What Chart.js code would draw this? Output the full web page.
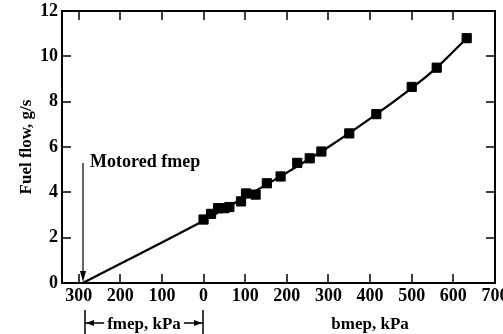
<!DOCTYPE html>
<html>
<head>
<meta charset="utf-8">
<script src="https://cdn.jsdelivr.net/npm/chart.js@4/dist/chart.umd.min.js"></script>
<style>
  html, body { margin: 0; padding: 0; background: #fff; }
  #wrap { width: 503px; height: 334px; }
</style>
</head>
<body>
<div id="wrap"><canvas id="fuelChart"></canvas></div>
<script>
const bmep = [0, 18, 35, 50, 62, 90, 102, 125, 152, 185, 225, 255, 283, 350, 415, 500, 560, 632];
const fuelFlow = [2.8, 3.05, 3.3, 3.3, 3.35, 3.6, 3.95, 3.9, 4.4, 4.7, 5.3, 5.5, 5.8, 6.6, 7.45, 8.65, 9.5, 10.8];
const fitX = [-290, 0, 100, 200, 300, 400, 500, 560, 632];
const fitY = [0, 2.75, 3.8, 4.87, 6.0, 7.25, 8.6, 9.5, 10.8];
const xTicks = [-300, -200, -100, 0, 100, 200, 300, 400, 500, 600, 700];
const yTicks = [0, 2, 4, 6, 8, 10, 12];
const motoredFmep = -290;

const serif = "'Liberation Serif', 'DejaVu Serif', serif";

// frame with inward ticks, plus the annotations
const frame = {
    id: "frame",
    afterDraw(chart) {
        const ctx = chart.ctx;
        const a = chart.chartArea;
        const xs = chart.scales.x;
        const ys = chart.scales.y;
        ctx.save();
        ctx.setLineDash([]);
        ctx.globalAlpha = 1;
        ctx.globalCompositeOperation = "source-over";
        ctx.fillStyle = "#000";
        ctx.strokeStyle = "#000";

        const lw = 2;
        ctx.fillRect(a.left - 1, a.top - 1, a.right - a.left + 2, lw);
        ctx.fillRect(a.left - 1, a.bottom - 1, a.right - a.left + 2, lw);
        ctx.fillRect(a.left - 1, a.top - 1, lw, a.bottom - a.top + 2);
        ctx.fillRect(a.right - 1, a.top - 1, lw, a.bottom - a.top + 2);

        xTicks.forEach(v => {
            const px = Math.round(xs.getPixelForValue(v));
            if (px <= a.left + 1 || px >= a.right - 1) return;
            ctx.fillRect(px - 0.75, a.bottom - 9, 1.5, 9);
            ctx.fillRect(px - 0.75, a.top, 1.5, 9);
        });
        yTicks.forEach(v => {
            const py = Math.round(ys.getPixelForValue(v));
            if (py <= a.top + 1 || py >= a.bottom - 1) return;
            ctx.fillRect(a.left, py - 0.75, 9, 1.5);
            ctx.fillRect(a.right - 9, py - 0.75, 9, 1.5);
        });

        // motored fmep arrow
        const mx = Math.round(xs.getPixelForValue(motoredFmep));
        ctx.font = "bold 18px " + serif;
        ctx.textBaseline = "alphabetic";
        ctx.textAlign = "left";
        ctx.fillText("Motored fmep", mx + 7, 167);
        const top = Math.round(ys.getPixelForValue(5.3));
        ctx.fillRect(mx - 0.6, top, 1.2, a.bottom - top - 8);
        ctx.beginPath();
        ctx.moveTo(mx, a.bottom - 1);
        ctx.lineTo(mx - 3, a.bottom - 12);
        ctx.lineTo(mx + 3, a.bottom - 12);
        ctx.closePath();
        ctx.fill();

        // axis titles below
        const ty = 329;
        ctx.font = "bold 17px " + serif;
        ctx.textAlign = "center";
        ctx.fillText("bmep, kPa", xs.getPixelForValue(400), ty);
        const l = Math.round(xs.getPixelForValue(motoredFmep)) + 2;
        const r = Math.round(xs.getPixelForValue(0)) - 1;
        const label = "fmep, kPa";
        const w = ctx.measureText(label).width;
        const cx = (l + r) / 2;
        ctx.fillText(label, cx, ty);
        ctx.fillRect(l - 0.75, 310, 1.5, 24);
        ctx.fillRect(r - 0.75, 310, 1.5, 24);
        ctx.fillRect(l, 322.25, cx - w / 2 - 3 - l, 1.5);
        ctx.fillRect(cx + w / 2 + 3, 322.25, r - (cx + w / 2 + 3), 1.5);
        ctx.beginPath();
        ctx.moveTo(l + 1, 323); ctx.lineTo(l + 9, 320); ctx.lineTo(l + 9, 326); ctx.closePath();
        ctx.moveTo(r - 1, 323); ctx.lineTo(r - 9, 320); ctx.lineTo(r - 9, 326); ctx.closePath();
        ctx.fill();
        ctx.restore();
    }
};

new Chart(document.getElementById("fuelChart"), {
    type: "scatter",
    data: {
        datasets: [
            {
                label: "Fuel flow",
                data: bmep.map((v, i) => ({ x: v, y: fuelFlow[i] })),
                pointStyle: "rect",
                pointRadius: 6.5,
                backgroundColor: "#000",
                borderColor: "#000",
                borderWidth: 1,
                showLine: false,
            },
            {
                label: "Fit",
                data: fitX.map((v, i) => ({ x: v, y: fitY[i] })),
                showLine: true,
                borderColor: "#000",
                borderWidth: 2.3,
                pointRadius: 0,
                tension: 0.3,
            },
        ],
    },
    options: {
        responsive: true,
        maintainAspectRatio: false,
        animation: false,
        layout: { padding: { top: 11, right: 8, left: 0, bottom: 0 } },
        plugins: {
            legend: { display: false },
            tooltip: { enabled: false },
        },
        scales: {
            x: {
                type: "linear",
                min: -340,
                max: 700,
                afterBuildTicks: s => { s.ticks = xTicks.map(v => ({ value: v })); },
                afterFit: s => { s.height = 51; s.paddingLeft = 0; s.paddingRight = 0; },
                grid: { display: false, drawTicks: false },
                border: { display: false },
                ticks: {
                    color: "#000",
                    padding: 3,
                    maxRotation: 0,
                    autoSkip: false,
                    font: { family: serif, size: 18, weight: "bold" },
                    callback: v => String(Math.abs(v)),
                },
            },
            y: {
                min: 0,
                max: 12,
                afterBuildTicks: s => { s.ticks = yTicks.map(v => ({ value: v })); },
                afterFit: s => { s.width = 62; s.paddingTop = 0; s.paddingBottom = 0; },
                grid: { display: false, drawTicks: false },
                border: { display: false },
                title: {
                    display: true,
                    text: "Fuel flow, g/s",
                    color: "#000",
                    padding: { top: 16, bottom: 0 },
                    font: { family: serif, size: 17, weight: "bold" },
                },
                ticks: {
                    color: "#000",
                    padding: 4,
                    font: { family: serif, size: 18, weight: "bold" },
                },
            },
        },
    },
    plugins: [frame],
});
</script>
</body>
</html>
